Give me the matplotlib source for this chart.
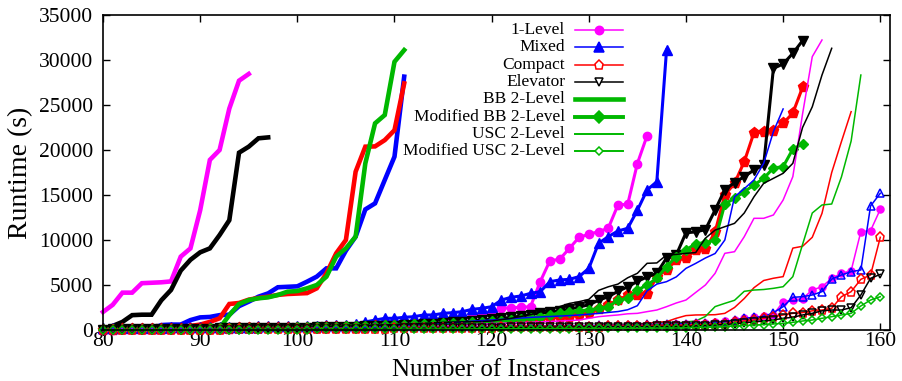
import matplotlib
matplotlib.use('Agg')
import matplotlib.pyplot as plt

plt.rcParams['font.family'] = ['Liberation Serif', 'DejaVu Serif']

X_START = 80

# ---- BB 2-Level (thick lines, no markers)
bb_1level = [2000, 2800, 4150, 4150, 5200, 5250, 5300, 5400, 8150, 9070, 13300, 18900, 20000, 24600, 27700, 28450]
bb_mixed = [0, 0, 0, 0, 50, 100, 550, 600, 600, 1100, 1400, 1450, 1650, 1700, 2650, 3150, 3700, 4070, 4750, 4800,
            4850, 5370, 5930, 6850, 6850, 8820, 10370, 13400, 14070, 16670, 19260, 28150]
bb_compact = [0, 0, 0, 0, 0, 0, 50, 100, 200, 450, 600, 900, 1300, 2890, 3000, 3370, 3560, 3700, 3900, 4000,
              4050, 4100, 4630, 6300, 8520, 10000, 17590, 20370, 20400, 21100, 22200, 27400]
bb_elevator = [100, 450, 900, 1650, 1700, 1700, 3300, 4450, 6600, 7800, 8630, 9070, 10550, 12200, 19700, 20370, 21300, 21400]
bb_2level = [0, 0, 0, 0, 0, 0, 0, 0, 0, 0, 50, 100, 200, 1650, 2890, 3330, 3520, 3630, 3890, 4260,
             4330, 4630, 5000, 5930, 8150, 9070, 10370, 18520, 22960, 23890, 29800, 31100]

# ---- Modified BB 2-Level (medium lines, filled markers)
mbb_1level = [50, 50, 60, 60, 70, 80, 90, 100, 110, 120,
              130, 140, 150, 160, 170, 180, 200, 220, 240, 260,
              280, 300, 330, 360, 390, 420, 460, 500, 550, 600,
              650, 720, 800, 880, 960, 1050, 1150, 1300, 1500, 1700,
              2000, 2410, 2480, 2520, 2590, 5370, 7700, 7850, 9070, 10300,
              10630, 10930, 11300, 13900, 13960, 18500, 21600]
mbb_mixed = [200, 200, 200, 200, 220, 250, 250, 280, 300, 300,
             330, 330, 350, 350, 370, 370, 400, 400, 420, 430,
             450, 470, 500, 520, 550, 600, 700, 900, 1100, 1300,
             1300, 1410, 1480, 1670, 1670, 1850, 1930, 2040, 2300, 2410,
             2590, 3330, 3630, 3780, 4070, 4260, 5370, 5560, 5630, 5930,
             6850, 9630, 10370, 11000, 11300, 13300, 15560, 16480, 31100]
mbb_compact = [50, 50, 60, 60, 70, 80, 90, 100, 110, 120,
               130, 140, 150, 160, 170, 180, 190, 200, 210, 220,
               230, 250, 270, 290, 310, 330, 350, 380, 410, 440,
               470, 500, 530, 560, 600, 640, 680, 720, 760, 800,
               850, 900, 950, 1000, 1100, 1200, 1300, 1400, 1500, 1650,
               1850, 2300, 2800, 3330, 3850, 3890, 3950, 5930, 6670, 7780,
               7960, 8890, 8960, 10900, 15000, 16300, 18700, 21930, 21950, 22150,
               22960, 24100, 26960]
mbb_elevator = [50, 60, 70, 80, 90, 100, 110, 120, 130, 140,
                150, 160, 170, 180, 190, 200, 210, 220, 230, 240,
                250, 270, 290, 310, 330, 350, 380, 410, 440, 470,
                500, 550, 600, 650, 700, 800, 850, 900, 1000, 1100,
                1200, 1300, 1400, 1550, 1700, 1850, 2000, 2150, 2300, 2550,
                2800, 3300, 3700, 4300, 4800, 5400, 5900, 6300, 8000, 8330,
                10800, 10900, 11150, 13330, 15600, 16370, 17040, 17780, 18330, 29070,
                29560, 30740, 32150]
mbb_2level = [100, 100, 110, 110, 120, 120, 130, 130, 140, 150,
              160, 170, 180, 190, 200, 210, 220, 230, 250, 270,
              290, 310, 330, 350, 370, 400, 430, 460, 490, 520,
              550, 580, 620, 660, 700, 740, 780, 820, 860, 900,
              950, 1000, 1100, 1200, 1300, 1480, 1670, 1850, 2040, 2150,
              2220, 2400, 2590, 3300, 3520, 4440, 5000, 5740, 7050, 8150,
              8890, 9600, 9700, 10000, 14000, 14630, 15370, 16110, 16850, 18000,
              18150, 20100, 20670]

# ---- USC 2-Level (thin lines)
usc_1level = [0, 0, 0, 10, 10, 20, 20, 30, 30, 40,
              40, 50, 50, 60, 60, 70, 70, 80, 80, 90,
              90, 100, 100, 110, 120, 130, 150, 170, 190, 210,
              240, 270, 300, 350, 400, 450, 500, 550, 600, 650,
              700, 740, 780, 820, 860, 900, 950, 1000, 1050, 1110,
              1300, 1480, 1580, 1670, 1800, 1850, 2040, 2220, 2590, 3000,
              3330, 4170, 5000, 6300, 8520, 8700, 10370, 12410, 12410, 12780,
              14440, 17040, 24000, 30370, 32220]
usc_mixed = [0, 0, 0, 10, 10, 20, 20, 30, 30, 40,
             50, 60, 70, 80, 90, 100, 120, 140, 160, 180,
             200, 220, 240, 260, 280, 300, 320, 350, 380, 420,
             470, 520, 580, 640, 700, 760, 820, 900, 980, 1050,
             1110, 1180, 1250, 1330, 1400, 1450, 1500, 1550, 1600, 1670,
             1750, 1850, 1950, 2050, 2250, 2700, 4350, 5100, 5370, 5900,
             6850, 7400, 8000, 8500, 10000, 14800, 15700, 16670, 18520, 22040,
             24560]
usc_compact = [0, 0, 0, 0, 0, 0, 0, 0, 10, 10,
               10, 10, 20, 20, 20, 30, 30, 30, 40, 40,
               40, 50, 50, 60, 60, 70, 70, 80, 80, 90,
               90, 100, 100, 110, 120, 130, 140, 150, 160, 170,
               180, 200, 220, 240, 260, 280, 300, 330, 360, 400,
               440, 480, 520, 560, 600, 650, 740, 850, 930, 1300,
               1600, 1670, 1680, 1700, 1850, 2500, 3500, 4700, 5500, 5750,
               5930, 9100, 9300, 10300, 12960, 17500, 20930, 24260]
usc_elevator = [50, 60, 70, 80, 90, 100, 110, 120, 130, 140,
                150, 160, 180, 200, 220, 230, 250, 260, 280, 290,
                300, 320, 340, 360, 390, 420, 450, 480, 520, 560,
                600, 650, 700, 740, 800, 850, 880, 900, 920, 950,
                1000, 1150, 1300, 1500, 1700, 2000, 2300, 2600, 2950, 3150,
                3400, 4400, 4800, 5100, 5800, 6300, 7410, 7450, 8330, 8400,
                8520, 8600, 10200, 11100, 11480, 11850, 13000, 14800, 16300, 16850,
                17410, 18520, 22500, 24800, 28330, 31300]
usc_2level = [0, 0, 0, 0, 0, 0, 0, 0, 0, 0,
              0, 0, 0, 10, 10, 10, 10, 20, 20, 20,
              20, 30, 30, 30, 40, 40, 40, 50, 50, 60,
              60, 70, 70, 80, 80, 90, 90, 100, 100, 110,
              120, 130, 140, 150, 160, 180, 200, 220, 250, 280,
              300, 330, 360, 390, 420, 460, 500, 560, 630, 700,
              900, 1000, 1500, 2600, 2960, 3300, 4300, 4440, 4500, 4630,
              4810, 5930, 9500, 13000, 13890, 14000, 17000, 21000, 28330]

# ---- Modified USC 2-Level (thin lines, open markers)
musc_1level = [20, 20, 30, 30, 40, 40, 50, 50, 60, 60,
               70, 70, 80, 80, 90, 90, 100, 100, 110, 110,
               120, 130, 140, 150, 160, 170, 180, 190, 200, 210,
               220, 230, 240, 250, 260, 270, 280, 290, 300, 310,
               320, 330, 340, 350, 360, 370, 380, 390, 400, 420,
               440, 460, 480, 500, 520, 540, 560, 580, 600, 650,
               700, 750, 800, 850, 950, 1100, 1300, 1400, 1550, 1700,
               3150, 3330, 3500, 4440, 4810, 5740, 6300, 6590, 10930, 11040, 13410]
musc_mixed = [50, 50, 60, 60, 70, 70, 80, 80, 90, 90,
              100, 110, 120, 130, 140, 150, 160, 170, 180, 190,
              200, 210, 220, 230, 240, 250, 260, 270, 280, 290,
              300, 310, 320, 330, 340, 350, 360, 370, 380, 390,
              400, 410, 420, 430, 440, 450, 460, 470, 480, 490,
              500, 520, 540, 560, 580, 600, 620, 640, 660, 680,
              700, 740, 780, 810, 930, 1110, 1300, 1410, 1480, 1930,
              2590, 3630, 3700, 3890, 4260, 5650, 6110, 6480, 6670, 13780, 15190]
musc_compact = [10, 10, 20, 20, 20, 30, 30, 30, 40, 40,
                40, 50, 50, 60, 60, 70, 70, 80, 80, 90,
                90, 100, 100, 110, 110, 120, 130, 140, 150, 160,
                170, 180, 190, 200, 210, 220, 230, 240, 250, 260,
                270, 280, 290, 300, 310, 320, 330, 340, 350, 360,
                370, 380, 390, 400, 410, 420, 430, 440, 460, 480,
                500, 550, 600, 650, 700, 900, 1000, 1100, 1300, 1500,
                1670, 1850, 1930, 2130, 2220, 2410, 3700, 4260, 5630, 6110, 10300]
musc_elevator = [0, 0, 10, 10, 10, 20, 20, 20, 30, 30,
                 30, 40, 40, 50, 50, 60, 60, 70, 70, 80,
                 80, 90, 90, 100, 100, 110, 120, 130, 140, 150,
                 160, 170, 180, 190, 200, 210, 220, 230, 240, 250,
                 260, 270, 280, 290, 300, 310, 320, 330, 340, 350,
                 355, 360, 365, 370, 375, 380, 385, 390, 395, 398,
                 400, 450, 500, 550, 600, 700, 800, 900, 1000, 1110,
                 1300, 1410, 1670, 1850, 2130, 2220, 2220, 2480, 3890, 5740, 6180]
musc_2level = [0, 0, 0, 0, 10, 10, 10, 10, 20, 20,
               20, 20, 30, 30, 30, 30, 40, 40, 40, 50,
               50, 50, 60, 60, 60, 70, 70, 70, 80, 80,
               80, 90, 90, 90, 100, 100, 100, 110, 110, 120,
               120, 130, 130, 140, 140, 150, 150, 160, 160, 170,
               170, 180, 180, 190, 190, 200, 200, 210, 220, 230,
               250, 280, 310, 340, 380, 450, 500, 550, 600, 670,
               740, 850, 1000, 1110, 1300, 1480, 1670, 1850, 2670, 3330, 3700]

encodings = ['1-Level', 'Mixed', 'Compact', 'Elevator', '2-Level']
colors = {'1-Level': '#ff00ff', 'Mixed': '#0000ff', 'Compact': '#ff0000',
          'Elevator': '#000000', '2-Level': '#00b800'}
mk_filled = {'1-Level': ('o', 6.0), 'Mixed': ('^', 7.5), 'Compact': ('p', 8.0),
             'Elevator': ('v', 7.5), '2-Level': ('D', 5.5)}
mk_open = {'1-Level': ('o', 5.0), 'Mixed': ('^', 6.0), 'Compact': ('p', 6.5),
           'Elevator': ('v', 6.0), '2-Level': ('D', 4.2)}

bb = dict(zip(encodings, [bb_1level, bb_mixed, bb_compact, bb_elevator, bb_2level]))
mbb = dict(zip(encodings, [mbb_1level, mbb_mixed, mbb_compact, mbb_elevator, mbb_2level]))
usc = dict(zip(encodings, [usc_1level, usc_mixed, usc_compact, usc_elevator, usc_2level]))
musc = dict(zip(encodings, [musc_1level, musc_mixed, musc_compact, musc_elevator, musc_2level]))


def xs(vals):
    return list(range(X_START, X_START + len(vals)))


fig = plt.figure(figsize=(9.02, 3.81), dpi=100)
ax = fig.add_axes([103 / 902, 51 / 381, 787 / 902, 315 / 381])

for e in encodings:
    ax.plot(xs(bb[e]), bb[e], color=colors[e], lw=3.3, clip_on=False, solid_joinstyle='miter')
for e in encodings:
    m, s = mk_filled[e]
    ax.plot(xs(mbb[e]), mbb[e], color=colors[e], lw=2.2, marker=m, ms=s,
            mfc=colors[e], mec=colors[e], clip_on=False)
for e in encodings:
    ax.plot(xs(usc[e]), usc[e], color=colors[e], lw=1.1, clip_on=False)
for e in encodings:
    m, s = mk_open[e]
    filled = (e == '1-Level')
    ax.plot(xs(musc[e]), musc[e], color=colors[e], lw=1.1, marker=m, ms=s,
            mfc=colors[e] if filled else 'none', mec=colors[e], mew=1.1, clip_on=False)

ax.set_xlim(80, 161)
ax.set_ylim(0, 35000)
ax.set_xticks(range(80, 161, 10))
ax.set_yticks(range(0, 35001, 5000))
ax.tick_params(direction='in', top=True, right=True, length=5, width=1.0,
               labelsize=15.5)
ax.tick_params(axis='x', pad=1.5)
ax.tick_params(axis='y', pad=7)
for sp in ax.spines.values():
    sp.set_linewidth(1.2)

ax.set_xlabel('Number of Instances', fontsize=18, va='baseline')
ax.xaxis.set_label_coords(0.5, -(375.5 - 330) / 315)
ax.set_ylabel('Runtime (s)', fontsize=20)
ax.yaxis.set_label_coords(-(103 - 33) / 787, 0.5)

# legend (gnuplot style: text right-aligned, sample on the right)
legend_rows = [
    ('1-Level', colors['1-Level'], 1.1, 'o', 6.0, True),
    ('Mixed', colors['Mixed'], 1.1, '^', 7.0, True),
    ('Compact', colors['Compact'], 1.1, 'p', 6.5, False),
    ('Elevator', colors['Elevator'], 1.1, 'v', 6.0, False),
    ('BB 2-Level', colors['2-Level'], 3.3, None, 0, True),
    ('Modified BB 2-Level', colors['2-Level'], 2.8, 'D', 6.0, True),
    ('USC 2-Level', colors['2-Level'], 1.4, None, 0, True),
    ('Modified USC 2-Level', colors['2-Level'], 1.4, 'D', 4.5, False),
]
tx = (565 - 103) / 787
sx0, sx1 = (575 - 103) / 787, (623 - 103) / 787
smid = (599 - 103) / 787
for i, (lab, c, lw, m, s, filled) in enumerate(legend_rows):
    py = 30 + 17.35 * i
    yy = (330 - py) / 315
    ax.text(tx, yy, lab, transform=ax.transAxes, ha='right', va='center', fontsize=12.5)
    ax.plot([sx0, sx1], [yy, yy], transform=ax.transAxes, color=c, lw=lw, clip_on=False)
    if m:
        ax.plot([smid], [yy], transform=ax.transAxes, color=c, marker=m, ms=s,
                mfc=c if filled else 'white', mec=c, mew=1.1, clip_on=False)

fig.savefig('out.png', dpi=100)
